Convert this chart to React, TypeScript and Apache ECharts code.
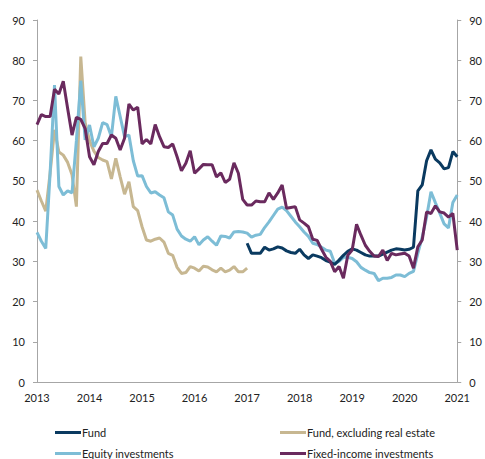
import React, { useEffect, useRef } from "react";
import * as echarts from "echarts";

const startYear = 2013;
const endYear = 2021;
const yTicks = [0, 10, 20, 30, 40, 50, 60, 70, 80, 90];

const fundStartIndex = 48;
const fund = [
  34.5, 32, 32, 32, 33.5, 32.8, 33.1, 33.6, 33.3, 32.6, 32.2, 32,
  33, 31.6, 30.7, 31.6, 31.3, 30.9, 30.2, 29.8, 29.2, 30.3, 31.5, 32.5,
  33.1, 32.8, 32.2, 31.6, 31.3, 31.3, 31.3, 31.8, 32.3, 32.8, 33.1, 33,
  32.8, 33, 33.5, 47.5, 49, 55, 57.7, 55.4, 54.5, 53, 53.3, 57.3, 56,
];

const fundExRealEstate = [
  47.7, 45, 42.5, 52, 62.7, 57.2, 56.4, 54.6, 51.5, 43.6, 80.9, 64.5,
  60, 57.4, 55.8, 55.2, 54.8, 50.5, 55.6, 51, 46.7, 49.8, 43.6, 42.6,
  38.6, 35.3, 35, 35.5, 35.8, 34.8, 32, 31.5, 28.5, 27, 27.2, 28.7,
  28.3, 27.6, 28.8, 28.6, 27.9, 27.4, 28.3, 27.4, 27.8, 28.7, 27.4, 27.4,
  28.3,
];

const equity = [
  37.2, 35, 33.2, 52, 73.8, 48.6, 46.5, 47.5, 47, 60, 74.9, 60.2,
  63.9, 58.5, 60.6, 64.5, 64, 61, 71, 66, 61, 61.4, 55, 51.2,
  51.3, 48.6, 47, 47.3, 46.5, 45.8, 42.3, 41.5, 38, 36.3, 35.5, 35,
  36.1, 34.1, 35.3, 36.1, 35, 34, 36.3, 36.2, 35.8, 37.3, 37.4, 37.3,
  37, 36, 36.5, 36.7, 38.4, 39.8, 41.4, 43, 43.5, 42.6, 41.2, 39.8,
  38.6, 37.3, 36.2, 34.5, 34.2, 33.5, 32.8, 32.5, 29.5, 30, 31, 31,
  30.7, 29.9, 28.5, 27.8, 27.2, 27, 25.2, 25.8, 25.8, 26, 26.6, 26.6,
  26.2, 27, 27.5, 32, 36, 41, 47.3, 44.6, 42, 39.3, 38.3, 44.6,
  46.5,
];

const fixedIncome = [
  64, 66.5, 66, 66, 72.8, 71.6, 74.8, 68, 61.4, 65.8, 65.3, 63,
  56, 54, 57.3, 59.3, 59.3, 61.4, 60.6, 57.7, 60.6, 69.1, 67.6, 68.3,
  59.2, 60.3, 59.2, 64, 61, 58.5, 58.3, 59.2, 56, 52.5, 54.4, 57.5,
  51.9, 53, 54.1, 54, 54, 51, 52, 49.6, 50.4, 54.5, 51.9, 45.4,
  44, 44, 45, 44.8, 44.8, 47, 45.4, 47, 49, 43.2, 43.4, 43.6,
  40.3, 39.5, 38.6, 35.5, 35.2, 33, 31, 30, 27.4, 28.7, 25.8, 31.5,
  32.8, 39.2, 36.5, 34, 32.5, 31.3, 31.2, 32.8, 30.2, 32, 31.6, 31.8,
  32, 31.3, 28.3, 33.6, 35.3, 42.3, 41.9, 43.8, 42.3, 42, 41, 41.9,
  32.8,
];

const seriesNames = [
  "Fund",
  "Fund, excluding real estate",
  "Equity investments",
  "Fixed-income investments",
];

const toPoints = (vals: number[], offset = 0) =>
  vals.map((v, i) => [startYear + (i + offset) / 12, v]);

const FONT = "Lato";

export default function App() {
  const ref = useRef<HTMLDivElement>(null);
  useEffect(() => {
    const chart = echarts.init(ref.current!, null, { renderer: "svg" });
    const axisLineStyle = { color: "#a6a6a6", width: 1 };
    const labelStyle = { color: "#222", fontSize: 11, fontFamily: FONT };
    const yAxisBase = {
      type: "value" as const,
      min: yTicks[0],
      max: yTicks[yTicks.length - 1],
      interval: 10,
      splitLine: { show: false },
      axisLine: { show: true, lineStyle: axisLineStyle },
      axisTick: { show: true, length: 4, lineStyle: axisLineStyle },
      axisLabel: { ...labelStyle, margin: 12 },
    };
    const line = (name: string, data: number[][], color: string) => ({
      name,
      type: "line" as const,
      data,
      showSymbol: false,
      symbol: "none",
      lineStyle: { color, width: 3 },
      itemStyle: { color },
      connectNulls: false,
    });
    const legendItem = (name: string, left: number, top: number) => ({
      data: [name],
      left,
      top,
      padding: 0,
      itemWidth: 26,
      itemHeight: 3,
      icon: "rect",
      textStyle: { color: "#222", fontSize: 11, fontFamily: FONT, padding: [0, 0, 0, -4] },
    });
    chart.setOption({
      animation: false,
      backgroundColor: "#fff",
      grid: { left: 37, right: 26, top: 20, bottom: 77, containLabel: false },
      xAxis: {
        type: "value",
        min: startYear,
        max: endYear,
        interval: 1,
        splitLine: { show: false },
        axisLine: { show: true, lineStyle: axisLineStyle },
        axisTick: { show: false },
        axisLabel: { ...labelStyle, margin: 10, formatter: (v: number) => String(Math.round(v)) },
      },
      yAxis: [
        { ...yAxisBase, position: "left" },
        { ...yAxisBase, position: "right" },
      ],
      legend: [
        legendItem(seriesNames[0], 55, 427),
        legendItem(seriesNames[2], 55, 448),
        legendItem(seriesNames[1], 280, 427),
        legendItem(seriesNames[3], 280, 448),
      ],
      series: [
        line(seriesNames[1], toPoints(fundExRealEstate), "#c7b791"),
        line(seriesNames[2], toPoints(equity), "#7dbdd6"),
        line(seriesNames[0], toPoints(fund, fundStartIndex), "#0a3a60"),
        line(seriesNames[3], toPoints(fixedIncome), "#6a2a5e"),
      ],
    });
    return () => chart.dispose();
  }, []);
  return (
    <div
      ref={ref}
      style={{ position: "fixed", left: 0, top: 0, width: 485, height: 459, background: "#fff" }}
    />
  );
}
